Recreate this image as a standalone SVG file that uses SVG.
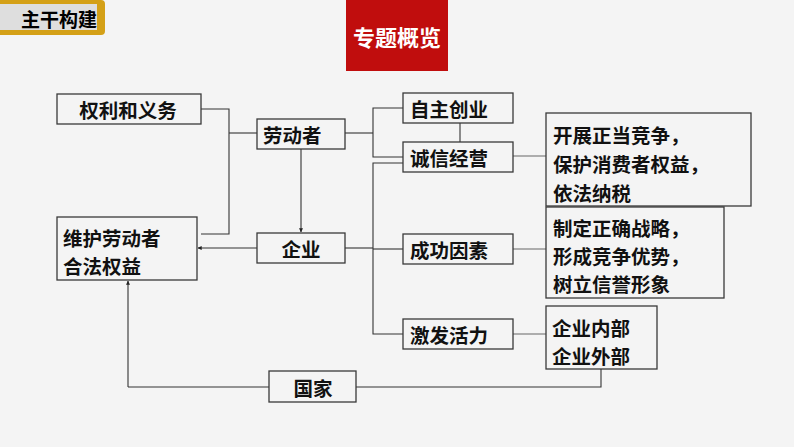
<svg xmlns="http://www.w3.org/2000/svg" width="794" height="447" viewBox="0 0 794 447">
<defs>
<style>
.box{fill:none;stroke:#3a3a3a;stroke-width:1.3}
.t{font-family:"Noto Sans CJK SC","Noto Sans",sans-serif;font-weight:bold;font-size:19.5px;fill:#111;dominant-baseline:central}
.c{fill:none;stroke:#333;stroke-width:1.1}
.g{fill:none;stroke:#666;stroke-width:1.1}
</style>
<marker id="ah" viewBox="0 0 6 6" refX="5.5" refY="3" markerWidth="4" markerHeight="4" orient="auto" markerUnits="userSpaceOnUse">
<path d="M0,0 L6,3 L0,6 z" fill="#222"/>
</marker>
</defs>
<rect width="794" height="447" fill="#f4f4f4"/>
<g id="header-left">
<rect x="-6" y="0" width="111" height="35" rx="4" fill="#d4a017"/>
<rect x="0" y="4" width="97" height="26" fill="#dedede"/>
<text x="59" y="18" text-anchor="middle" style="font-family:'Noto Sans CJK SC',sans-serif;font-weight:bold;font-size:19px;fill:#000;dominant-baseline:central">主干构建</text>
</g>
<g id="header-center">
<rect x="346" y="0" width="102" height="71" fill="#c00d0d"/>
<text x="397" y="36" text-anchor="middle" style="font-family:'Noto Sans CJK SC',sans-serif;font-weight:bold;font-size:22px;fill:#fff;dominant-baseline:central">专题概览</text>
</g>
<g id="connectors">
<polyline class="c" points="201,109 229,109 229,234 201,234"/>
<line class="c" x1="229" y1="133" x2="257" y2="133"/>
<line class="c" x1="345" y1="133" x2="373" y2="133"/>
<polyline class="c" points="403,108 373,108 373,157 403,157"/>
<polyline class="c" points="403,163 373,163 373,334 403,334"/>
<line class="c" x1="345" y1="248" x2="373" y2="248"/>
<line class="c" x1="373" y1="249" x2="403" y2="249"/>
<line class="c" x1="460" y1="123" x2="460" y2="142"/>
<line class="c" x1="301" y1="149" x2="301" y2="232" marker-end="url(#ah)"/>
<line class="c" x1="257" y1="248" x2="198" y2="248" marker-end="url(#ah)"/>
<line class="g" x1="513" y1="156" x2="546" y2="156"/>
<line class="g" x1="513" y1="249" x2="546" y2="249"/>
<line class="g" x1="513" y1="334" x2="546" y2="334"/>
<line class="c" x1="128" y1="387" x2="269" y2="387"/>
<line class="c" x1="128" y1="387" x2="128" y2="281" marker-end="url(#ah)"/>
<polyline class="c" points="356,387 601,387 601,369"/>
</g>
<g id="n-quanli"><rect class="box" x="57" y="94" width="144" height="30"/><text class="t" x="128" y="109" text-anchor="middle">权利和义务</text></g>
<g id="n-laodongzhe"><rect class="box" x="257" y="119" width="88" height="30"/><text class="t" x="263" y="134">劳动者</text></g>
<g id="n-weihu"><rect class="box" x="57" y="217" width="140" height="63"/><text class="t" x="63" y="237">维护劳动者</text><text class="t" x="63" y="265">合法权益</text></g>
<g id="n-qiye"><rect class="box" x="257" y="233" width="88" height="30"/><text class="t" x="301" y="248" text-anchor="middle">企业</text></g>
<g id="n-zizhu"><rect class="box" x="403" y="93" width="110" height="30"/><text class="t" x="410" y="108">自主创业</text></g>
<g id="n-chengxin"><rect class="box" x="403" y="142" width="110" height="30"/><text class="t" x="410" y="157">诚信经营</text></g>
<g id="n-chenggong"><rect class="box" x="403" y="234" width="110" height="30"/><text class="t" x="410" y="249">成功因素</text></g>
<g id="n-jifa"><rect class="box" x="403" y="319" width="110" height="30"/><text class="t" x="410" y="334">激发活力</text></g>
<g id="n-kaizhan"><rect class="box" x="546" y="113" width="205" height="93"/><text class="t" x="553" y="134">开展正当竞争，</text><text class="t" x="553" y="163">保护消费者权益，</text><text class="t" x="553" y="192">依法纳税</text></g>
<g id="n-zhiding"><rect class="box" x="546" y="207" width="178" height="91"/><text class="t" x="553" y="227">制定正确战略，</text><text class="t" x="553" y="255">形成竞争优势，</text><text class="t" x="553" y="283">树立信誉形象</text></g>
<g id="n-neibu"><rect class="box" x="546" y="306" width="111" height="63"/><text class="t" x="552" y="327">企业内部</text><text class="t" x="552" y="355">企业外部</text></g>
<g id="n-guojia"><rect class="box" x="269" y="371" width="87" height="31"/><text class="t" x="313" y="387" text-anchor="middle">国家</text></g>
</svg>
